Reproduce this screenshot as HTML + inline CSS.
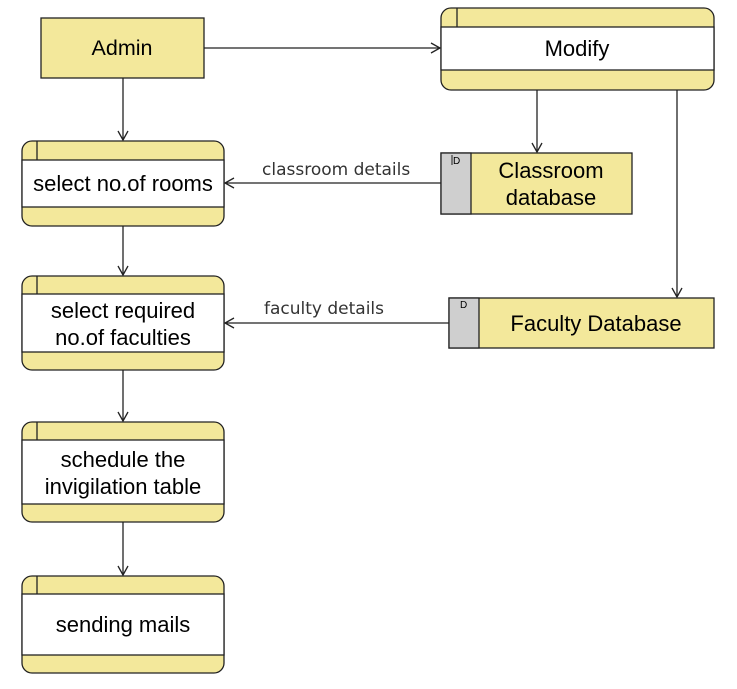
<!DOCTYPE html>
<html><head><style>body{margin:0;background:#fff}svg{display:block}</style></head><body>
<svg width="737" height="689" xmlns="http://www.w3.org/2000/svg" font-family="Liberation Sans, Arial, sans-serif">
<defs>
<marker id="a" markerWidth="12" markerHeight="12" refX="10" refY="6" orient="auto" markerUnits="userSpaceOnUse">
<path d="M1,1 L10,6 L1,11" fill="none" stroke="#222" stroke-width="1.3"/></marker>
</defs>
<g stroke="#222" stroke-width="1.3" fill="none">
<line x1="204" y1="48" x2="440" y2="48" marker-end="url(#a)"/>
<line x1="123" y1="78" x2="123" y2="140" marker-end="url(#a)"/>
<line x1="537" y1="90" x2="537" y2="152" marker-end="url(#a)"/>
<line x1="677" y1="90" x2="677" y2="297" marker-end="url(#a)"/>
<line x1="441" y1="183" x2="225" y2="183" marker-end="url(#a)"/>
<line x1="449" y1="323" x2="225" y2="323" marker-end="url(#a)"/>
<line x1="123" y1="226" x2="123" y2="275" marker-end="url(#a)"/>
<line x1="123" y1="370" x2="123" y2="421" marker-end="url(#a)"/>
<line x1="123" y1="522" x2="123" y2="575" marker-end="url(#a)"/>
</g>
<rect x="41" y="18" width="163" height="60" fill="#f3e89b" stroke="#222" stroke-width="1.3"/>
<text x="122" y="55" font-size="21.5" text-anchor="middle">Admin</text>
<g stroke="#222" stroke-width="1.3">
<rect x="441" y="8" width="273" height="82" rx="10" fill="#f3e89b"/>
<rect x="441" y="27" width="273" height="43" fill="#fff"/>
<line x1="457" y1="8" x2="457" y2="27"/>
<rect x="22" y="141" width="202" height="85" rx="10" fill="#f3e89b"/>
<rect x="22" y="160" width="202" height="47" fill="#fff"/>
<line x1="37" y1="141" x2="37" y2="160"/>
<rect x="22" y="276" width="202" height="94" rx="10" fill="#f3e89b"/>
<rect x="22" y="294" width="202" height="58" fill="#fff"/>
<line x1="37" y1="276" x2="37" y2="294"/>
<rect x="22" y="422" width="202" height="100" rx="10" fill="#f3e89b"/>
<rect x="22" y="440" width="202" height="64" fill="#fff"/>
<line x1="37" y1="422" x2="37" y2="440"/>
<rect x="22" y="576" width="202" height="97" rx="10" fill="#f3e89b"/>
<rect x="22" y="594" width="202" height="61" fill="#fff"/>
<line x1="37" y1="576" x2="37" y2="594"/>
<rect x="441" y="153" width="191" height="61" fill="#f3e89b"/>
<rect x="441" y="153" width="30" height="61" fill="#cfcfcf"/>
<rect x="449" y="298" width="265" height="50" fill="#f3e89b"/>
<rect x="449" y="298" width="30" height="50" fill="#cfcfcf"/>
</g>
<g font-size="22" text-anchor="middle" fill="#000">
<text x="577" y="56">Modify</text>
<text x="123" y="191">select no.of rooms</text>
<text x="123" y="318">select required</text>
<text x="123" y="345">no.of faculties</text>
<text x="123" y="467">schedule the</text>
<text x="123" y="494">invigilation table</text>
<text x="123" y="632">sending mails</text>
<text x="551" y="178">Classroom</text>
<text x="551" y="205">database</text>
<text x="596" y="331">Faculty Database</text>
</g>
<g font-size="10"><text x="453" y="164">D</text><text x="460" y="308">D</text></g>
<line x1="452" y1="155" x2="452" y2="165" stroke="#222"/>
<g fill="#333" font-family="DejaVu Sans, sans-serif" font-size="17">
<text x="262" y="175">classroom details</text>
<text x="264" y="314">faculty details</text>
</g>
</svg>
</body></html>
